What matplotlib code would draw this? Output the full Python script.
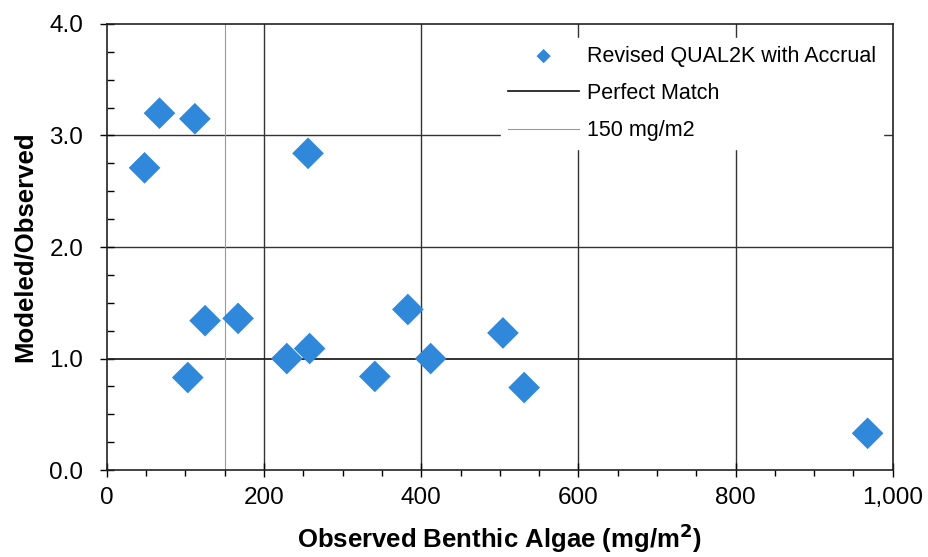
import matplotlib.pyplot as plt
from matplotlib.ticker import MultipleLocator, FuncFormatter

plt.rcParams["font.family"] = ["Liberation Sans", "DejaVu Sans"]

# ---- data ----
observed = [48, 67, 112, 256, 103, 125, 167, 229, 258, 383, 341, 412, 504, 531, 968]
ratio = [2.71, 3.20, 3.15, 2.84, 0.83, 1.34, 1.36, 1.00, 1.09, 1.44, 0.84, 1.00, 1.23, 0.74, 0.33]
perfect_match = 1.0
threshold = 150

fig = plt.figure(figsize=(9.29, 5.57), dpi=100)
ax = fig.add_axes([0.115, 0.156, 0.846, 0.801])

# grid
for gx in [200, 400, 600, 800]:
    ax.axvline(gx, color="#333333", lw=1.0, zorder=1)
for gy in [2.0, 3.0]:
    ax.axhline(gy, color="#333333", lw=1.0, zorder=1)

ax.scatter(observed, ratio, marker="D", s=260, color="#2F88DA",
           edgecolors="none", zorder=3, label="Revised QUAL2K with Accrual")
ax.axhline(perfect_match, color="#222222", lw=1.3, zorder=2, label="Perfect Match")
ax.axvline(threshold, color="#999999", lw=0.8, zorder=2, label="150 mg/m2")

ax.set_xlim(0, 1000)
ax.set_ylim(0, 4.0)
ax.xaxis.set_major_locator(MultipleLocator(200))
ax.xaxis.set_minor_locator(MultipleLocator(50))
ax.yaxis.set_major_locator(MultipleLocator(1.0))
ax.yaxis.set_minor_locator(MultipleLocator(0.25))
ax.xaxis.set_major_formatter(FuncFormatter(lambda v, p: f"{v:,.0f}"))
ax.yaxis.set_major_formatter(FuncFormatter(lambda v, p: f"{v:.1f}"))
ax.tick_params(axis="x", which="major", direction="inout", length=10, width=1, labelsize=17.5, pad=7)
ax.tick_params(axis="x", which="minor", direction="out", length=4, width=1)
ax.tick_params(axis="y", which="major", direction="inout", length=10, width=1, labelsize=17.5, pad=12)
ax.tick_params(axis="y", which="minor", direction="in", length=5, width=1)

for s in ax.spines.values():
    s.set_linewidth(1.2)
    s.set_color("#222222")

ax.set_xlabel("Observed Benthic Algae (mg/m$^\\mathbf{2}$)", fontsize=18.5, fontweight="bold", labelpad=9)
ax.set_ylabel("Modeled/Observed", fontsize=18.5, fontweight="bold", labelpad=9)

leg = ax.legend(loc="upper right", bbox_to_anchor=(0.988, 0.968), fontsize=15.5,
                frameon=True, fancybox=False, edgecolor="white", framealpha=1,
                markerscale=0.45, handlelength=3.3, handletextpad=0.35,
                labelspacing=0.75, borderpad=0.35, borderaxespad=0)

fig.savefig("out.png", dpi=100)
